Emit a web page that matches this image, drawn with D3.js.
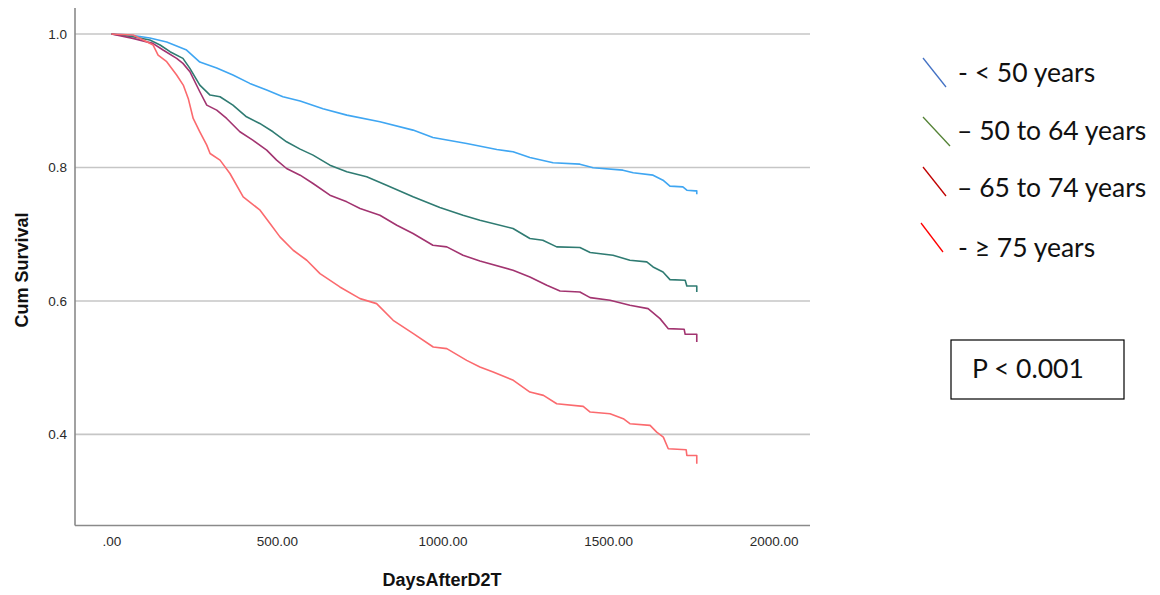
<!DOCTYPE html>
<html>
  <head>
    <meta charset="utf-8" />
    <style>
      body { margin: 0; background: #fff; }
    </style>
  </head>
  <body>
    <svg width="1160" height="595"></svg>
    <script src="https://cdn.jsdelivr.net/npm/d3@7/dist/d3.min.js"></script>
    <script>
      // --- data (days after D2T, cumulative survival) ---
      var groupLabels = ["- < 50 years", "\u2013 50 to 64 years", "\u2013 65 to 74 years", "- \u2265 75 years"];
      var curveColors = ["#3fa6f2", "#2f7b72", "#a23470", "#fb6a6e"];
      var legendColors = ["#4472c4", "#548235", "#c00000", "#ff0000"];

      var under50Days = [0, 56, 116, 167, 227, 267, 318, 367, 418, 469, 518, 570, 639, 711, 811, 911, 971, 1073, 1164, 1213, 1264, 1334, 1415, 1455, 1545, 1576, 1636, 1666, 1687, 1726, 1738, 1763, 1768, 1768];
      var under50Surv = [1.0, 0.9985, 0.994, 0.988, 0.976, 0.958, 0.949, 0.9385, 0.926, 0.916, 0.906, 0.8995, 0.888, 0.8785, 0.8685, 0.856, 0.845, 0.836, 0.827, 0.8235, 0.815, 0.807, 0.805, 0.7995, 0.796, 0.792, 0.7885, 0.781, 0.772, 0.771, 0.766, 0.765, 0.765, 0.76];

      var age50to64Days = [0, 65, 116, 147, 177, 216, 237, 267, 298, 328, 367, 408, 448, 488, 529, 570, 609, 660, 711, 771, 831, 911, 992, 1062, 1113, 1213, 1264, 1303, 1345, 1415, 1446, 1515, 1566, 1617, 1636, 1666, 1687, 1733, 1738, 1768, 1768];
      var age50to64Surv = [1.0, 0.996, 0.991, 0.9835, 0.9735, 0.9635, 0.9485, 0.9235, 0.9085, 0.906, 0.8935, 0.876, 0.866, 0.8535, 0.8385, 0.8275, 0.8185, 0.8035, 0.7935, 0.786, 0.7735, 0.756, 0.74, 0.7285, 0.721, 0.7085, 0.6935, 0.691, 0.681, 0.68, 0.6725, 0.6685, 0.661, 0.6585, 0.651, 0.6435, 0.632, 0.631, 0.6225, 0.6225, 0.6135];

      var age65to74Days = [0, 65, 125, 156, 197, 216, 237, 267, 288, 318, 348, 388, 427, 469, 499, 529, 570, 609, 660, 711, 751, 811, 862, 911, 971, 1013, 1062, 1113, 1213, 1264, 1315, 1355, 1415, 1446, 1506, 1566, 1621, 1657, 1682, 1730, 1733, 1768, 1768];
      var age65to74Surv = [1.0, 0.9935, 0.986, 0.976, 0.9635, 0.956, 0.9435, 0.9135, 0.8935, 0.886, 0.8735, 0.8535, 0.841, 0.826, 0.811, 0.7985, 0.7885, 0.776, 0.7585, 0.7485, 0.7385, 0.7285, 0.7135, 0.701, 0.6835, 0.681, 0.6685, 0.66, 0.646, 0.636, 0.6235, 0.615, 0.6135, 0.605, 0.601, 0.5935, 0.5885, 0.5735, 0.5585, 0.5575, 0.55, 0.55, 0.5385];

      var over75Days = [0, 65, 96, 126, 141, 167, 197, 217, 232, 247, 267, 288, 298, 328, 358, 398, 449, 479, 509, 549, 590, 630, 690, 751, 801, 851, 912, 972, 1013, 1073, 1113, 1153, 1214, 1264, 1305, 1345, 1425, 1446, 1506, 1546, 1566, 1627, 1647, 1667, 1682, 1736, 1738, 1768, 1768];
      var over75Surv = [1.0, 0.9985, 0.991, 0.9835, 0.9685, 0.9585, 0.9385, 0.9235, 0.9035, 0.8735, 0.8535, 0.8335, 0.821, 0.811, 0.791, 0.756, 0.736, 0.716, 0.696, 0.676, 0.661, 0.641, 0.621, 0.6035, 0.596, 0.571, 0.551, 0.531, 0.5285, 0.511, 0.501, 0.4935, 0.481, 0.4635, 0.4585, 0.446, 0.442, 0.4335, 0.431, 0.4235, 0.416, 0.4135, 0.4035, 0.396, 0.3785, 0.377, 0.3685, 0.3685, 0.356];

      var xTicks = [0, 500, 1000, 1500, 2000];
      var yTicks = [0.4, 0.6, 0.8, 1.0];

      var series = [
        [under50Days, under50Surv],
        [age50to64Days, age50to64Surv],
        [age65to74Days, age65to74Surv],
        [over75Days, over75Surv]
      ];

      var svg = d3.select("svg");

      // plot frame
      var plotLeft = 75, plotRight = 810, plotTop = 8, plotBottom = 525.5;

      var x = d3.scaleLinear().domain([-110, 2110]).range([plotLeft, plotRight]);
      var y = d3.scaleLinear().domain([0.2635, 1.039]).range([plotBottom, plotTop]);

      // gridlines
      svg.append("g")
        .selectAll("line")
        .data(yTicks)
        .enter()
        .append("line")
        .attr("x1", plotLeft)
        .attr("x2", plotRight)
        .attr("y1", function(d) { return y(d); })
        .attr("y2", function(d) { return y(d); })
        .attr("stroke", "#c6c6c6")
        .attr("stroke-width", 1.6);

      // y axis
      var yAxis = svg.append("g")
        .attr("transform", "translate(" + plotLeft + ",0)")
        .call(d3.axisLeft(y).tickValues(yTicks).tickSize(0).tickPadding(8).tickFormat(d3.format(".1f")));
      yAxis.select(".domain").remove();
      yAxis.selectAll("text")
        .attr("font-family", "Liberation Sans, Arial, sans-serif")
        .attr("font-size", "13.5px")
        .attr("fill", "#2a2a2a");

      // x axis
      var xAxis = svg.append("g")
        .attr("transform", "translate(0," + plotBottom + ")")
        .call(d3.axisBottom(x).tickValues(xTicks).tickSize(0).tickPadding(11)
          .tickFormat(function(d) { return d === 0 ? ".00" : d3.format(".2f")(d); }));
      xAxis.select(".domain").remove();
      xAxis.selectAll("text")
        .attr("font-family", "Liberation Sans, Arial, sans-serif")
        .attr("font-size", "13.5px")
        .attr("fill", "#2a2a2a");

      // axis lines
      svg.append("line")
        .attr("x1", plotLeft).attr("x2", plotLeft)
        .attr("y1", plotTop).attr("y2", plotBottom)
        .attr("stroke", "#8a8a8a").attr("stroke-width", 1.6);
      svg.append("line")
        .attr("x1", plotLeft).attr("x2", plotRight)
        .attr("y1", plotBottom).attr("y2", plotBottom)
        .attr("stroke", "#8a8a8a").attr("stroke-width", 1.6);

      // survival curves (tail steps kept explicit)
      var line = d3.line()
        .x(function(d) { return x(d[0]); })
        .y(function(d) { return y(d[1]); })
        .curve(d3.curveLinear);

      svg.append("g")
        .selectAll("path")
        .data(series)
        .enter()
        .append("path")
        .attr("d", function(s) {
          return line(s[0].map(function(day, i) { return [day, s[1][i]]; }));
        })
        .attr("fill", "none")
        .attr("stroke", function(s, i) { return curveColors[i]; })
        .attr("stroke-width", 1.6)
        .attr("stroke-linejoin", "round");

      // axis titles
      svg.append("text")
        .attr("x", 442)
        .attr("y", 586)
        .attr("text-anchor", "middle")
        .attr("font-family", "Liberation Sans, Arial, sans-serif")
        .attr("font-weight", "bold")
        .attr("font-size", "18px")
        .attr("fill", "#111")
        .text("DaysAfterD2T");

      svg.append("text")
        .attr("transform", "translate(28,270) rotate(-90)")
        .attr("text-anchor", "middle")
        .attr("font-family", "Liberation Sans, Arial, sans-serif")
        .attr("font-weight", "bold")
        .attr("font-size", "18px")
        .attr("fill", "#111")
        .text("Cum Survival");

      // legend
      var legendTop = [58, 117, 167, 223];
      var legendBase = [82, 140, 197, 257];
      var legend = svg.append("g");
      groupLabels.forEach(function(label, i) {
        legend.append("line")
          .attr("x1", 923 - (i === 3 ? 2 : 0))
          .attr("y1", legendTop[i])
          .attr("x2", 946 + (i === 1 ? 4 : 0) - (i === 3 ? 3 : 0))
          .attr("y2", legendTop[i] + 29)
          .attr("stroke", legendColors[i])
          .attr("stroke-width", 1.3);
        legend.append("text")
          .attr("x", i === 0 || i === 3 ? 958 : 957)
          .attr("y", legendBase[i])
          .attr("font-family", "Lato, Carlito, Calibri, sans-serif")
          .attr("font-size", "26.5px")
          .attr("fill", "#111")
          .text(label);
      });

      // p-value box
      svg.append("rect")
        .attr("x", 951)
        .attr("y", 340)
        .attr("width", 173)
        .attr("height", 59)
        .attr("fill", "#fff")
        .attr("stroke", "#000")
        .attr("stroke-width", 1.2);
      svg.append("text")
        .attr("x", 972)
        .attr("y", 378)
        .attr("font-family", "Lato, Carlito, Calibri, sans-serif")
        .attr("font-size", "26.5px")
        .attr("fill", "#111")
        .text("P < 0.001");
    </script>
  </body>
</html>
